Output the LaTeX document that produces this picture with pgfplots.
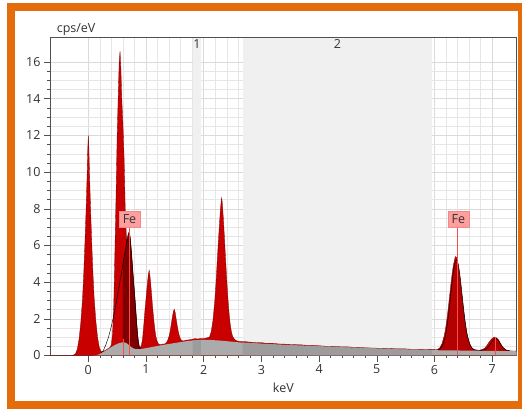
\documentclass[border=0pt]{standalone}
\usepackage{pgfplots}
\usepackage{pgfplotstable}
\pgfplotsset{compat=1.18}
\usepackage{fontspec}
\setmainfont{Open Sans}
\definecolor{frameorange}{HTML}{E46C0A}
\definecolor{specred}{HTML}{C80000}
\definecolor{specedge}{HTML}{7A0000}
\definecolor{bggray}{HTML}{ABABAB}
\definecolor{bggraydark}{HTML}{9C9C9C}
\definecolor{regiongray}{HTML}{F0F0F0}
\definecolor{gridminor}{HTML}{E6E6E6}
\definecolor{gridmajor}{HTML}{DADADA}
\definecolor{axisgray}{HTML}{505050}
\definecolor{textgray}{HTML}{333333}
\definecolor{markred}{HTML}{FF4A4A}
\definecolor{labelpink}{HTML}{FF9E9E}
\definecolor{labeledge}{HTML}{F08A8A}
\newcommand\chartfont{\fontsize{12.5bp}{15bp}\selectfont}

% measured spectrum (cps/eV vs keV)
\pgfplotstableread{
E v
-0.664 0
-0.30 0
-0.26 0.02
-0.22 0.10
-0.19 0.35
-0.16 0.90
-0.13 1.80
-0.10 3.10
-0.08 4.40
-0.06 6.00
-0.04 7.80
-0.02 9.90
-0.01 11.20
0.00 12.00
0.01 11.30
0.02 10.00
0.04 7.90
0.06 6.10
0.08 4.50
0.10 3.20
0.13 1.90
0.16 1.00
0.19 0.45
0.22 0.22
0.26 0.22
0.30 0.29
0.34 0.37
0.38 0.45
0.40 0.60
0.42 1.20
0.44 2.60
0.46 5.50
0.48 8.60
0.50 12.00
0.52 14.30
0.535 16.00
0.55 16.60
0.565 15.60
0.58 14.00
0.60 12.60
0.62 10.80
0.64 8.00
0.66 6.50
0.675 6.20
0.69 6.50
0.71 6.75
0.72 6.60
0.74 5.95
0.76 5.15
0.78 4.30
0.80 3.50
0.82 2.65
0.84 1.75
0.86 1.00
0.88 0.58
0.90 0.42
0.92 0.55
0.94 0.90
0.96 1.60
0.98 2.40
1.00 3.10
1.02 3.80
1.04 4.40
1.055 4.65
1.07 4.30
1.09 3.60
1.11 2.80
1.13 2.10
1.15 1.50
1.17 1.05
1.19 0.80
1.21 0.65
1.24 0.58
1.28 0.62
1.32 0.63
1.34 0.66
1.37 0.78
1.40 1.05
1.42 1.35
1.44 1.75
1.46 2.15
1.475 2.40
1.49 2.52
1.505 2.35
1.52 2.05
1.54 1.65
1.56 1.30
1.58 1.05
1.60 0.88
1.63 0.80
1.66 0.80
1.70 0.84
1.74 0.85
1.78 0.88
1.81 0.89
1.85 0.92
1.90 0.90
1.95 0.93
2.00 0.92
2.04 0.95
2.08 0.98
2.10 1.00
2.13 1.30
2.16 1.90
2.19 2.90
2.21 3.80
2.23 4.90
2.25 6.00
2.27 7.00
2.29 8.00
2.31 8.60
2.32 8.40
2.34 7.50
2.36 6.40
2.38 5.20
2.40 4.10
2.42 3.10
2.44 2.30
2.46 1.70
2.48 1.30
2.50 1.05
2.53 0.90
2.56 0.82
2.60 0.77
2.70 0.76
2.80 0.73
2.90 0.70
3.00 0.70
3.10 0.66
3.20 0.66
3.30 0.63
3.40 0.62
3.50 0.60
3.60 0.59
3.70 0.58
3.80 0.55
3.90 0.55
4.00 0.53
4.10 0.51
4.20 0.50
4.30 0.49
4.40 0.47
4.50 0.47
4.60 0.45
4.70 0.44
4.80 0.42
4.90 0.41
5.00 0.40
5.10 0.39
5.20 0.38
5.30 0.37
5.40 0.36
5.50 0.36
5.60 0.34
5.70 0.34
5.80 0.33
5.90 0.32
6.00 0.32
6.05 0.33
6.09 0.41
6.13 0.64
6.17 1.09
6.19 1.43
6.21 1.85
6.23 2.34
6.25 2.90
6.27 3.48
6.29 4.05
6.31 4.56
6.33 4.97
6.35 5.23
6.36 5.40
6.37 5.32
6.38 5.36
6.39 5.23
6.41 4.97
6.43 4.56
6.45 4.05
6.47 3.48
6.49 2.90
6.51 2.34
6.53 1.85
6.55 1.43
6.57 1.09
6.61 0.64
6.65 0.41
6.69 0.32
6.73 0.30
6.77 0.28
6.83 0.33
6.87 0.40
6.91 0.55
6.95 0.75
6.99 0.90
7.02 0.98
7.05 1.00
7.08 0.95
7.11 0.85
7.15 0.62
7.19 0.43
7.23 0.31
7.27 0.27
7.32 0.25
7.425 0.24
}\spectrum

% background (bremsstrahlung) fit
\pgfplotstableread{
E v
0.10 0
0.14 0.02
0.18 0.06
0.22 0.12
0.26 0.19
0.30 0.26
0.34 0.34
0.38 0.42
0.42 0.50
0.46 0.57
0.50 0.63
0.54 0.68
0.58 0.71
0.62 0.72
0.66 0.68
0.70 0.58
0.74 0.47
0.78 0.39
0.82 0.35
0.86 0.34
0.90 0.35
1.00 0.40
1.10 0.46
1.20 0.52
1.30 0.58
1.40 0.63
1.50 0.68
1.60 0.73
1.70 0.78
1.81 0.82
1.90 0.84
1.953 0.85
2.00 0.86
2.10 0.85
2.20 0.83
2.30 0.81
2.40 0.78
2.50 0.75
2.60 0.72
2.675 0.70
2.80 0.68
3.00 0.64
3.25 0.60
3.50 0.56
3.75 0.53
4.00 0.50
4.25 0.47
4.50 0.44
4.75 0.41
5.00 0.38
5.25 0.35
5.50 0.33
5.75 0.31
5.96 0.29
6.25 0.28
6.50 0.27
6.75 0.26
7.00 0.25
7.25 0.24
7.425 0.23
}\background

% Fe L fit
\pgfplotstableread{
E v
0.22 0.12
0.26 0.27
0.30 0.55
0.35 1.00
0.40 1.60
0.45 2.30
0.49 3.00
0.53 3.70
0.57 4.40
0.61 5.20
0.64 5.70
0.67 6.30
0.69 6.60
0.71 6.75
0.73 6.30
0.75 5.50
0.77 4.60
0.79 3.80
0.81 3.00
0.83 2.10
0.85 1.25
0.87 0.60
0.89 0.40
0.91 0.36
}\feLfit

\pgfplotstableread{
E v
0.60 5.00
0.61 5.20
0.64 5.70
0.67 6.30
0.69 6.60
0.71 6.75
0.73 6.30
0.75 5.50
0.77 4.60
0.79 3.80
0.81 3.00
0.83 2.10
0.85 1.25
0.87 0.60
0.89 0.40
}\feLdark

% Fe K fit
\pgfplotstableread{
E v
6.06 0.30
6.10 0.37
6.14 0.55
6.18 0.94
6.20 1.25
6.22 1.65
6.24 2.13
6.26 2.68
6.28 3.27
6.30 3.86
6.32 4.40
6.34 4.84
6.36 5.12
6.38 5.22
6.40 5.12
6.42 4.84
6.44 4.40
6.46 3.86
6.48 3.27
6.50 2.68
6.52 2.13
6.54 1.65
6.56 1.25
6.58 0.94
6.62 0.55
6.66 0.37
6.70 0.30
6.80 0.27
6.88 0.33
6.94 0.50
6.98 0.68
7.02 0.86
7.06 0.96
7.10 0.86
7.14 0.66
7.18 0.45
7.24 0.30
7.30 0.26
}\feKfit

\begin{document}
\begin{tikzpicture}
\useasboundingbox (0bp,0bp) rectangle (522bp,409bp);
\fill[frameorange] (7bp,0bp) rectangle (522bp,406bp);
\fill[white] (15bp,8bp) rectangle (518bp,398bp);
\begin{axis}[
  at={(50bp,53.5bp)}, anchor=south west,
  scale only axis, width=466.7bp, height=318.2bp,
  xmin=-0.664, xmax=7.425, ymin=0, ymax=17.35,
  xtick={0,1,...,7}, ytick={0,2,...,16},
  minor x tick num=4, minor y tick num=3,
  grid=both,
  minor grid style={gridminor, line width=0.5bp},
  major grid style={gridmajor, line width=0.5bp},
  tick align=outside, tick pos=left,
  major tick length=6bp, minor tick length=3bp,
  every tick/.style={axisgray, line width=0.5bp},
  axis line style={axisgray, line width=0.7bp},
  tick label style={font=\chartfont, text=textgray},
  /pgf/number format/assume math mode=true,
  xlabel={keV}, ylabel={cps/eV},
  every axis x label/.style={at={(axis description cs:0.5,0)}, anchor=base, yshift=-37.2bp, font=\chartfont, text=textgray},
  every axis y label/.style={at={(axis description cs:0,1)}, anchor=base west, xshift=3.3bp, yshift=4.3bp, font=\chartfont, text=textgray},
]
% energy regions
\addplot[draw=none, fill=regiongray] coordinates {(1.81,17.31) (1.953,17.31)} \closedcycle;
\addplot[draw=none, fill=regiongray] coordinates {(2.675,17.31) (5.96,17.31)} \closedcycle;
% spectrum
\addplot[fill=specred, draw=specedge, line width=0.3bp] table[x=E,y=v] {\spectrum} \closedcycle;
% Fe fits
\addplot[draw=none, fill=black, fill opacity=0.36] table[x=E,y=v] {\feLdark} \closedcycle;
\addplot[draw=none, fill=black, fill opacity=0.1] table[x=E,y=v] {\feKfit} \closedcycle;
\addplot[black, line width=0.45bp] table[x=E,y=v] {\feLfit};
\addplot[black, line width=0.45bp] table[x=E,y=v] {\feKfit};
% background
\addplot[draw=none, fill=bggray] table[x=E,y=v] {\background} \closedcycle;
\addplot[draw=none, fill=bggraydark, restrict x to domain=1.81:1.953] table[x=E,y=v] {\background} \closedcycle;
\addplot[draw=none, fill=bggraydark, restrict x to domain=2.675:5.96] table[x=E,y=v] {\background} \closedcycle;
% Fe line markers
\addplot[markred, line width=0.6bp] coordinates {(0.615,0) (0.615,0.9)};
\addplot[markred, line width=0.6bp] coordinates {(0.705,0) (0.705,6.95)};
\addplot[markred, line width=0.6bp] coordinates {(6.40,0) (6.40,6.95)};
\addplot[markred, line width=0.6bp] coordinates {(7.06,0) (7.06,1.0)};
% labels
\node[fill=labelpink, draw=labeledge, line width=0.4bp, minimum width=21bp, minimum height=16.5bp, inner sep=1bp, font=\chartfont, text=textgray] at (axis cs:0.714,7.42) {Fe};
\node[fill=labelpink, draw=labeledge, line width=0.4bp, minimum width=21bp, minimum height=16.5bp, inner sep=1bp, font=\chartfont, text=textgray] at (axis cs:6.415,7.42) {Fe};
\node[font=\chartfont, text=textgray] at (axis cs:1.884,16.97) {1};
\node[font=\chartfont, text=textgray] at (axis cs:4.32,16.97) {2};
\end{axis}
\end{tikzpicture}
\end{document}
